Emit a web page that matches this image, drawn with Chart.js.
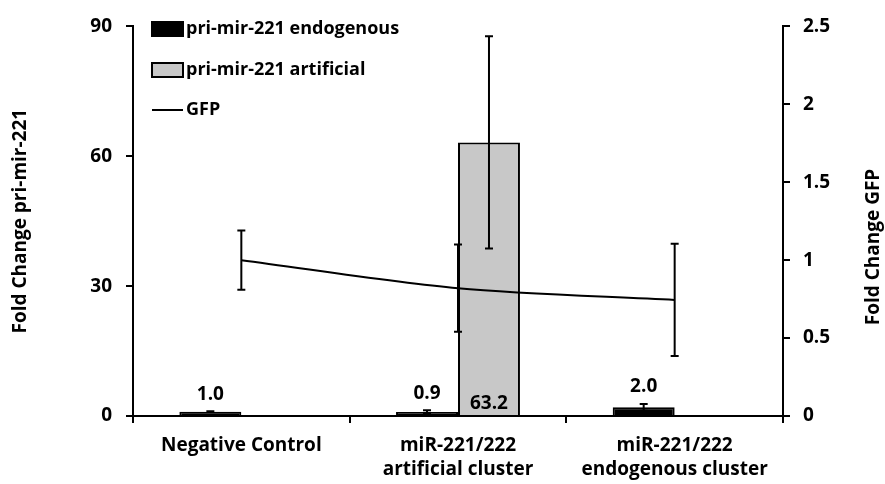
<!DOCTYPE html>
<html>
<head>
<meta charset="utf-8">
<script src="https://cdn.jsdelivr.net/npm/chart.js@4"></script>
<style>
  body { margin: 0; background: #fff; }
  #wrap { width: 885px; height: 484px; }
</style>
</head>
<body>
<div id="wrap"><canvas id="chart"></canvas></div>
<script>
const categories = [
  ["Negative Control"],
  ["miR-221/222", "artificial cluster"],
  ["miR-221/222", "endogenous cluster"]
];
const endogenous = [1.0, 0.9, 2.0];
const endogenousErr = [0.1, 0.4, 0.8];
const artificial = [null, 63.2, null];
const artificialErr = [null, 24.5, null];
const gfp = [1.0, 0.82, 0.745];
const gfpErr = [0.19, 0.28, 0.36];
const leftTicks = [0, 30, 60, 90];
const rightTicks = [0, 0.5, 1, 1.5, 2, 2.5];

const FONT = "'Open Sans'";
const SIZE = 19;
const font = size => ({ family: FONT, size: size, weight: "bold", lineHeight: 1.3 });

// Error bars on top of everything
const errorBars = {
  id: "errorBars",
  afterDatasetsDraw(chart) {
    const ctx = chart.ctx;
    const sets = [[0, endogenousErr], [1, artificialErr], [2, gfpErr]];
    ctx.save();
    ctx.strokeStyle = "#000";
    ctx.lineWidth = 2;
    sets.forEach(([idx, errs]) => {
      const meta = chart.getDatasetMeta(idx);
      const scale = chart.scales[meta.yAxisID];
      const values = chart.data.datasets[idx].data;
      meta.data.forEach((el, i) => {
        if (values[i] == null || errs[i] == null) return;
        const x = el.x;
        const top = scale.getPixelForValue(values[i] + errs[i]);
        const bot = scale.getPixelForValue(Math.max(0, values[i] - errs[i]));
        ctx.beginPath();
        ctx.moveTo(x, top); ctx.lineTo(x, bot);
        ctx.moveTo(x - 4, top); ctx.lineTo(x + 4, top);
        ctx.moveTo(x - 4, bot); ctx.lineTo(x + 4, bot);
        ctx.stroke();
      });
    });
    ctx.restore();
  }
};

// Value labels, in-plot legend, right axis title (reads upward like the left one)
const extras = {
  id: "extras",
  afterDraw(chart) {
    const ctx = chart.ctx;
    const y = chart.scales.y;
    ctx.save();
    ctx.fillStyle = "#000";
    ctx.font = "bold " + SIZE + "px " + FONT;
    ctx.textAlign = "center";
    ctx.textBaseline = "middle";
    chart.getDatasetMeta(0).data.forEach((el, i) => {
      const top = y.getPixelForValue(endogenous[i] + endogenousErr[i]);
      ctx.fillText(endogenous[i].toFixed(1), el.x, top - 17);
    });
    chart.getDatasetMeta(1).data.forEach((el, i) => {
      if (artificial[i] == null) return;
      ctx.fillText(artificial[i].toFixed(1), el.x, y.getPixelForValue(0) - 12);
    });

    // right title
    ctx.save();
    ctx.translate(874, 247);
    ctx.rotate(-Math.PI / 2);
    ctx.fillText("Fold Change GFP", 0, 0);
    ctx.restore();

    // legend
    const lx = 152, lw = 31;
    ctx.lineWidth = 2;
    ctx.strokeStyle = "#000";
    ctx.fillStyle = "#000";
    ctx.fillRect(lx, 22, lw, 14);
    ctx.strokeRect(lx, 22, lw, 14);
    ctx.fillStyle = "#c8c8c8";
    ctx.fillRect(lx, 63, lw, 14);
    ctx.strokeRect(lx, 63, lw, 14);
    ctx.beginPath();
    ctx.moveTo(lx, 110); ctx.lineTo(lx + lw, 110);
    ctx.stroke();
    ctx.fillStyle = "#000";
    ctx.textAlign = "left";
    ctx.font = "bold 18px " + FONT;
    ctx.fillText("pri-mir-221 endogenous", 186, 29);
    ctx.fillText("pri-mir-221 artificial", 186, 70);
    ctx.fillText("GFP", 186, 110);
    ctx.restore();
  }
};

new Chart(document.getElementById("chart"), {
  type: "bar",
  data: {
    labels: categories,
    datasets: [
      {
        label: "pri-mir-221 endogenous",
        data: endogenous,
        backgroundColor: "#000",
        borderColor: "#000",
        borderWidth: 2,
        yAxisID: "y",
        categoryPercentage: 0.572,
        barPercentage: 1
      },
      {
        label: "pri-mir-221 artificial",
        data: artificial,
        backgroundColor: "#c8c8c8",
        borderColor: "#000",
        borderWidth: 2,
        yAxisID: "y",
        categoryPercentage: 0.572,
        barPercentage: 1
      },
      {
        type: "line",
        label: "GFP",
        data: gfp,
        borderColor: "#000",
        borderWidth: 2,
        pointRadius: 0,
        tension: 0.3,
        fill: false,
        yAxisID: "y1",
        order: -1
      }
    ]
  },
  options: {
    responsive: true,
    maintainAspectRatio: false,
    animation: false,
    layout: { padding: { top: 20 } },
    plugins: { legend: { display: false }, tooltip: { enabled: false } },
    scales: {
      x: {
        grid: { display: true, drawOnChartArea: false, tickLength: 7, color: "#000", lineWidth: 2, offset: true },
        border: { color: "#000", width: 2 },
        ticks: { color: "#000", font: font(SIZE), padding: 10, maxRotation: 0, autoSkip: false },
        afterFit(s) { s.height = 68; }
      },
      y: {
        position: "left",
        min: 0,
        max: 90,
        afterBuildTicks(s) { s.ticks = leftTicks.map(v => ({ value: v })); },
        grid: { display: true, drawOnChartArea: false, tickLength: 7, color: "#000", lineWidth: 2 },
        border: { color: "#000", width: 2 },
        ticks: { color: "#000", font: font(SIZE), padding: 14 },
        title: { display: true, text: "Fold Change pri-mir-221", color: "#000", font: font(SIZE), padding: { top: 8 } },
        afterFit(s) { s.width = 133; }
      },
      y1: {
        position: "right",
        min: 0,
        max: 2.5,
        afterBuildTicks(s) { s.ticks = rightTicks.map(v => ({ value: v })); },
        grid: { display: true, drawOnChartArea: false, tickLength: 7, color: "#000", lineWidth: 2 },
        border: { color: "#000", width: 2 },
        ticks: { color: "#000", font: font(SIZE), padding: 13, callback: v => String(v) },
        afterFit(s) { s.width = 102; }
      }
    }
  },
  plugins: [errorBars, extras]
});
</script>
</body>
</html>
